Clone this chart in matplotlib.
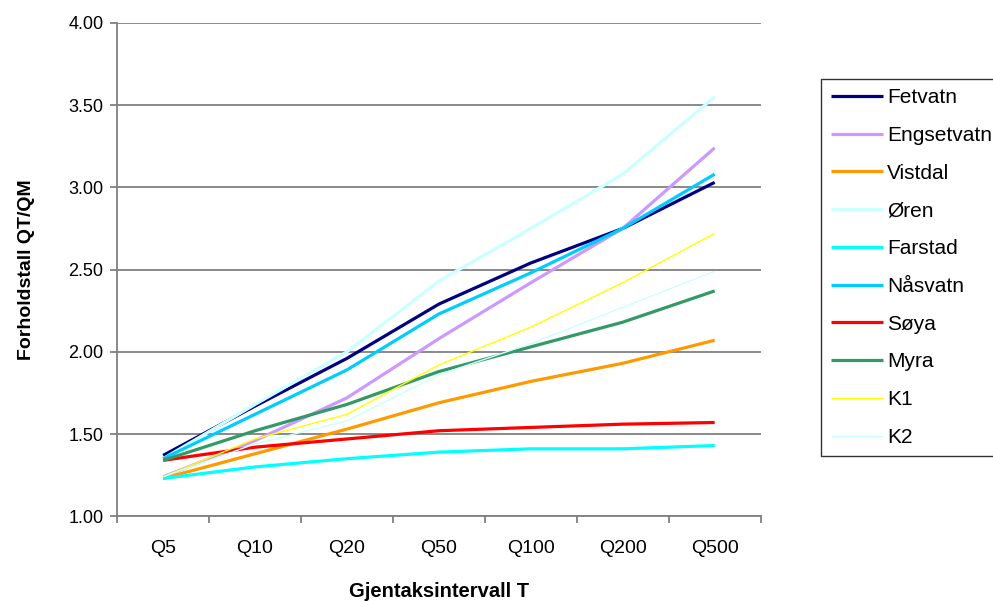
import matplotlib.pyplot as plt
import numpy as np

plt.rcParams['font.family'] = ['Liberation Sans', 'DejaVu Sans']

# return periods and ratio QT/QM per station
periods = ['Q5', 'Q10', 'Q20', 'Q50', 'Q100', 'Q200', 'Q500']
fetvatn = [1.37, 1.67, 1.96, 2.29, 2.54, 2.75, 3.03]
engsetvatn = [1.24, 1.46, 1.72, 2.08, 2.42, 2.75, 3.24]
vistdal = [1.23, 1.38, 1.53, 1.69, 1.82, 1.93, 2.07]
oren = [1.35, 1.68, 2.00, 2.43, 2.75, 3.08, 3.55]
farstad = [1.23, 1.30, 1.35, 1.39, 1.41, 1.41, 1.43]
nasvatn = [1.35, 1.62, 1.89, 2.23, 2.48, 2.75, 3.08]
soya = [1.34, 1.42, 1.47, 1.52, 1.54, 1.56, 1.57]
myra = [1.34, 1.52, 1.68, 1.88, 2.03, 2.18, 2.37]
k1 = [1.24, 1.47, 1.62, 1.92, 2.15, 2.42, 2.72]
k2 = [1.24, 1.44, 1.58, 1.86, 2.05, 2.27, 2.49]

names = ['Fetvatn', 'Engsetvatn', 'Vistdal', 'Øren', 'Farstad',
         'Nåsvatn', 'Søya', 'Myra', 'K1', 'K2']
series = [fetvatn, engsetvatn, vistdal, oren, farstad, nasvatn, soya, myra, k1, k2]
colors = ['#000080', '#CC99FF', '#FF9900', '#CCFFFF', '#00FFFF',
          '#00CCFF', '#FF0000', '#339966', '#FFFF00', '#CCFFFF']
widths = [2.3, 2.3, 2.3, 2.3, 2.3, 2.3, 2.3, 2.3, 1.0, 1.0]

fig = plt.figure(figsize=(9.93, 6.01), dpi=100)
ax = fig.add_axes([0.118, 0.141, 0.648, 0.821])

x = np.arange(len(periods))
for vals, name, c, lw in zip(series, names, colors, widths):
    ax.plot(x, vals, color=c, lw=lw, label=name, solid_capstyle='butt')

ax.set_ylim(1.0, 4.0)
ax.set_yticks(np.arange(1.0, 4.01, 0.5))
ax.set_yticklabels(['%.2f' % v for v in np.arange(1.0, 4.01, 0.5)], fontsize=13)
ax.yaxis.grid(True, color='#808080', lw=1.3)
ax.set_axisbelow(True)

ax.set_xlim(-0.5, len(periods) - 0.5)
ax.set_xticks(x)
ax.set_xticklabels(periods, fontsize=14)
ax.set_xticks(np.arange(-0.5, len(periods), 1.0), minor=True)
ax.tick_params(axis='x', which='major', length=0, pad=17)
ax.tick_params(axis='x', which='minor', length=5, color='#808080', width=1.3)
ax.tick_params(axis='y', length=5, color='#808080', width=1.3, pad=5)

for s in ['top', 'right']:
    ax.spines[s].set_visible(False)
for s in ['left', 'bottom']:
    ax.spines[s].set_color('#808080')
    ax.spines[s].set_linewidth(1.3)

ax.set_xlabel('Gjentaksintervall T', fontsize=14.5, fontweight='bold', labelpad=18)
ax.set_ylabel('Forholdstall QT/QM', fontsize=14, fontweight='bold', labelpad=24)

leg = fig.legend(loc='upper left', bbox_to_anchor=(0.827, 0.869), fontsize=15,
                 frameon=True, fancybox=False, edgecolor='black',
                 handlelength=2.5, handletextpad=0.2, labelspacing=0.9,
                 borderpad=0.45, borderaxespad=0)
leg.get_frame().set_linewidth(1.0)

fig.savefig('out.png', dpi=100)
